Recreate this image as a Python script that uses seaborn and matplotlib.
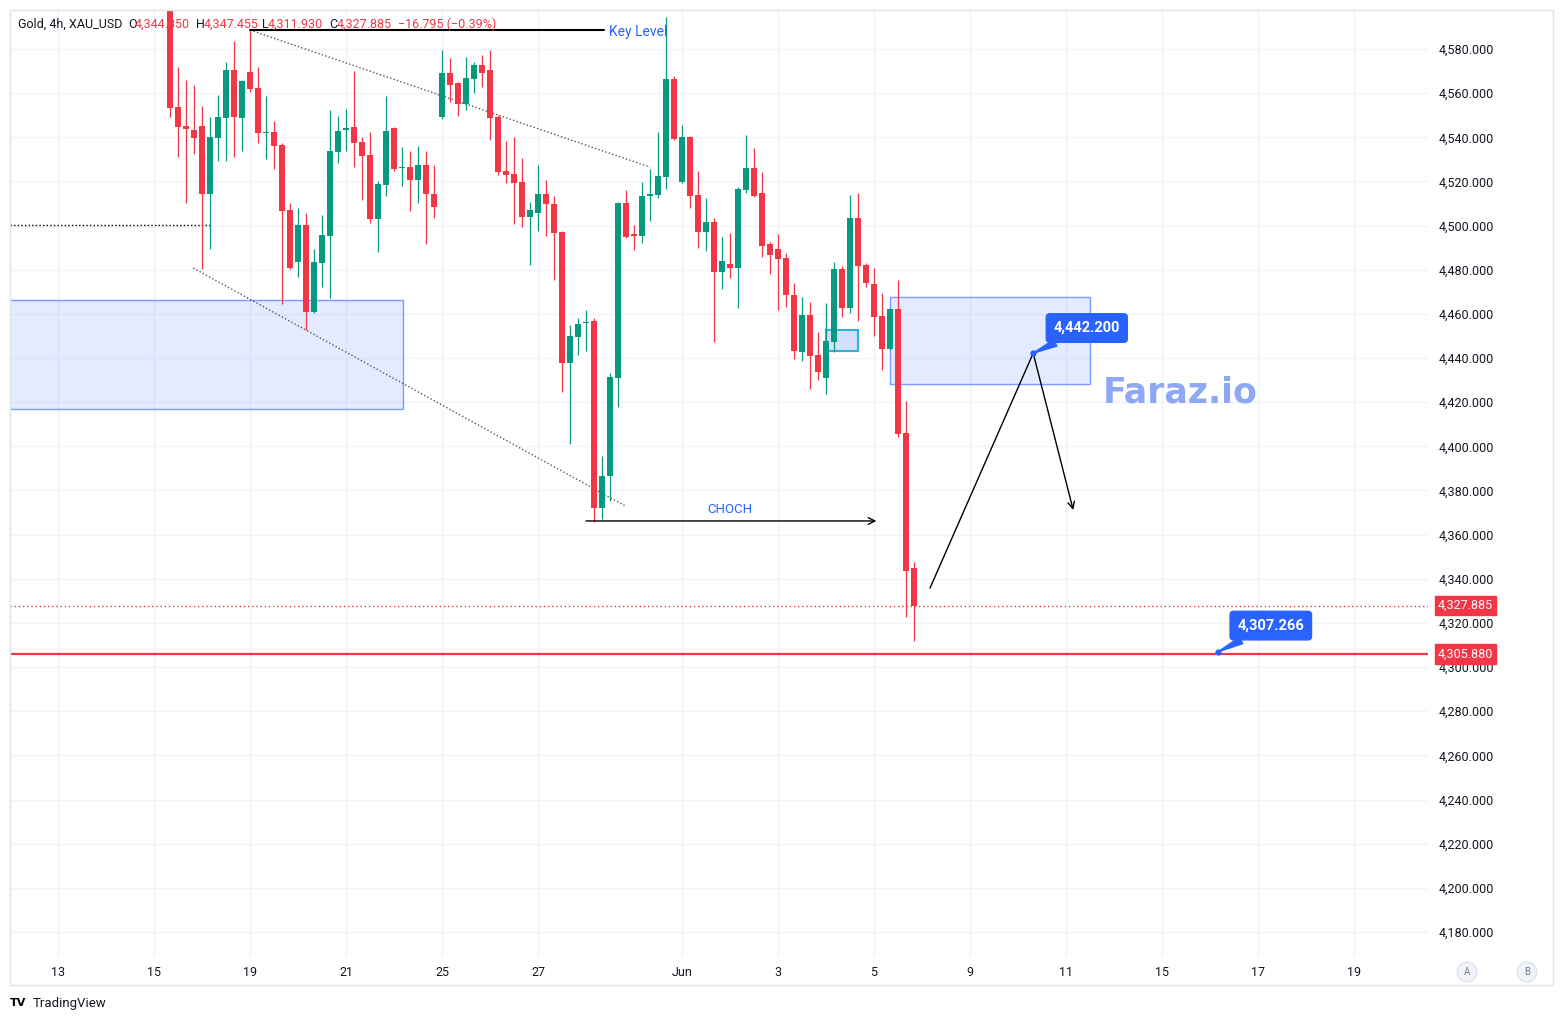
import numpy as np
import pandas as pd
import matplotlib
matplotlib.use("Agg")
import matplotlib.pyplot as plt
import matplotlib.transforms as mtransforms
from matplotlib.patches import Rectangle
import seaborn as sns

# 4h candles, Gold (XAU_USD)
opens = [4606.0, 4553.6, 4545.1, 4543.3, 4545.1, 4514.2, 4539.8, 4548.9, 4570.5, 4548.9,
         4569.6, 4562.3, 4541.8, 4542.4, 4536.6, 4507.1, 4483.6, 4500.3, 4461.0, 4483.2,
         4495.4, 4533.5, 4543.3, 4544.7, 4537.7, 4532.0, 4503.0, 4518.4, 4544.3, 4525.9,
         4526.5, 4520.7, 4527.5, 4514.3, 4549.1, 4569.3, 4564.5, 4554.9, 4566.4, 4572.8,
         4570.5, 4549.3, 4524.7, 4523.4, 4519.8, 4504.0, 4505.8, 4514.3, 4509.8, 4497.1,
         4437.9, 4449.7, 4455.9, 4456.6, 4372.2, 4386.5, 4431.1, 4510.1, 4496.2, 4495.4,
         4513.4, 4513.9, 4522.2, 4566.4, 4519.6, 4540.3, 4513.9, 4497.2, 4501.6, 4479.1,
         4482.5, 4480.7, 4516.1, 4526.2, 4514.6, 4491.5, 4489.4, 4485.3, 4468.6, 4442.9,
         4459.5, 4441.4, 4431.1, 4447.4, 4480.3, 4462.8, 4503.3, 4482.2, 4473.5, 4459.0,
         4444.2, 4462.1, 4405.9, 4344.850]
highs = [4612.0, 4571.7, 4566.0, 4563.7, 4554.2, 4549.2, 4559.2, 4574.0, 4583.6, 4566.0,
         4588.6, 4571.7, 4558.7, 4547.2, 4537.5, 4510.1, 4508.0, 4505.6, 4489.4, 4504.8,
         4552.4, 4549.6, 4552.7, 4570.0, 4540.0, 4542.4, 4520.2, 4558.7, 4544.8, 4535.5,
         4533.8, 4536.1, 4533.8, 4527.5, 4579.5, 4576.1, 4565.2, 4576.5, 4574.1, 4577.3,
         4579.5, 4550.0, 4538.3, 4540.1, 4530.8, 4510.6, 4527.5, 4520.7, 4513.4, 4497.5,
         4454.8, 4458.1, 4461.6, 4458.0, 4395.6, 4433.1, 4510.5, 4516.1, 4500.3, 4519.9,
         4525.5, 4542.4, 4594.6, 4567.8, 4545.6, 4540.6, 4524.7, 4512.4, 4503.3, 4494.8,
         4496.5, 4517.6, 4541.0, 4535.3, 4524.4, 4492.7, 4496.2, 4487.7, 4473.9, 4467.8,
         4465.3, 4451.9, 4464.8, 4483.6, 4481.7, 4513.9, 4514.6, 4482.9, 4480.7, 4469.3,
         4462.5, 4475.4, 4420.5, 4347.455]
lows = [4549.3, 4531.2, 4510.4, 4532.4, 4480.2, 4489.3, 4529.4, 4529.4, 4531.2, 4533.9,
        4560.7, 4537.6, 4530.3, 4525.5, 4464.3, 4480.3, 4476.9, 4452.7, 4460.5, 4472.3,
        4467.1, 4528.5, 4533.9, 4526.7, 4511.6, 4501.3, 4488.2, 4513.5, 4524.9, 4518.1,
        4506.7, 4510.1, 4491.5, 4503.6, 4548.4, 4556.1, 4549.6, 4552.4, 4559.9, 4562.9,
        4538.8, 4522.9, 4519.4, 4500.6, 4499.5, 4482.2, 4497.7, 4495.4, 4475.5, 4424.8,
        4401.1, 4441.2, 4443.3, 4365.9, 4366.9, 4375.4, 4418.0, 4494.2, 4488.9, 4492.0,
        4502.1, 4512.4, 4516.4, 4539.0, 4519.3, 4508.1, 4490.0, 4488.6, 4447.4, 4471.1,
        4476.4, 4462.5, 4514.6, 4513.1, 4485.9, 4478.1, 4461.8, 4463.0, 4439.6, 4438.7,
        4426.0, 4430.1, 4423.7, 4442.9, 4458.5, 4460.5, 4456.9, 4472.3, 4450.1, 4434.6,
        4443.8, 4404.4, 4322.8, 4311.930]
closes = [4553.4, 4544.8, 4543.6, 4539.8, 4514.2, 4540.1, 4549.2, 4570.5, 4549.2, 4565.6,
          4562.0, 4541.8, 4542.1, 4536.2, 4506.7, 4480.7, 4500.3, 4461.0, 4483.5, 4495.7,
          4533.8, 4542.9, 4544.1, 4537.6, 4531.7, 4503.0, 4518.7, 4542.9, 4525.5, 4526.4,
          4520.7, 4527.5, 4514.2, 4508.6, 4569.3, 4563.7, 4554.9, 4566.9, 4572.8, 4569.3,
          4548.9, 4524.3, 4522.9, 4519.4, 4504.0, 4507.1, 4514.3, 4509.6, 4496.8, 4437.9,
          4450.0, 4455.4, 4456.3, 4372.2, 4386.6, 4431.3, 4510.1, 4494.7, 4495.4, 4513.4,
          4514.3, 4522.5, 4566.4, 4539.4, 4540.1, 4513.5, 4497.2, 4501.6, 4479.1, 4484.0,
          4480.7, 4516.6, 4526.2, 4513.5, 4490.9, 4486.7, 4484.9, 4468.6, 4443.3, 4459.5,
          4441.1, 4433.8, 4447.7, 4480.3, 4462.8, 4503.3, 4481.8, 4474.1, 4458.7, 4444.3,
          4462.1, 4405.6, 4343.7, 4327.885]

date_labels = ["13", "15", "19", "21", "25", "27", "Jun", "3", "5", "9", "11", "15", "17", "19"]
date_pos = [-14, -2, 10, 22, 34, 46, 64, 76, 88, 100, 112, 124, 136, 148]

last_price = 4327.885
support = 4305.880
target_up = 4442.200
target_dn = 4307.266
key_level = 4588.5
choch = 4366.2

GREEN, RED, BLUE = "#089981", "#f23645", "#2962ff"
TXT = "#131722"

sns.set_theme(style="white")
plt.rcParams["font.family"] = ["Roboto", "DejaVu Sans"]

df = pd.DataFrame({"open": opens, "high": highs, "low": lows, "close": closes})
df["x"] = np.arange(len(df))
df["color"] = np.where(df["close"] >= df["open"], GREEN, RED)

W, H = 1563, 1021
fig = plt.figure(figsize=(W / 100, H / 100), dpi=100)
ax = fig.add_axes([10 / W, 1 - 957 / H, 1418 / W, 947 / H])

# zones
ax.add_patch(Rectangle((-25, 4416.9), 54.1, 49.4, fc=(0.16, 0.38, 1, 0.12),
                       ec=(0.16, 0.38, 1, 0.6), lw=1, zorder=1))
ax.add_patch(Rectangle((90, 4428.2), 25, 39.5, fc=(0.16, 0.38, 1, 0.12),
                       ec=(0.16, 0.38, 1, 0.6), lw=1, zorder=1))
ax.add_patch(Rectangle((82, 4443.2), 4, 9.5, fc=(0.16, 0.38, 1, 0.2),
                       ec="#2bb7d3", lw=1.5, zorder=1))

# candles
ax.vlines(df["x"], df["low"], df["high"], colors=df["color"], lw=0.9, zorder=3)
body = (df["close"] - df["open"]).abs().clip(lower=0.5)
ax.bar(df["x"], body, bottom=df[["open", "close"]].min(axis=1), width=0.7,
       color=df["color"], lw=0, zorder=3)

# trend lines
dot = (0, (1, 1.6))
sns.lineplot(x=[10, 60], y=[4588.6, 4526.5], ax=ax, color="#555", lw=1, ls=dot, zorder=2)
sns.lineplot(x=[2.9, 56.9], y=[4480.8, 4373.0], ax=ax, color="#555", lw=1, ls=dot, zorder=2)
sns.lineplot(x=[-20, 5], y=[4500.3, 4500.3], ax=ax, color="black", lw=1, ls=dot, zorder=2)

# key level
ax.plot([10, 54.3], [key_level, key_level], color="black", lw=1.5, zorder=4)
ax.text(54.9, key_level - 0.6, "Key Level", color=BLUE, fontsize=10, va="center", zorder=4)

# CHOCH
ax.annotate("", xy=(88.3, choch), xytext=(52, choch),
            arrowprops=dict(arrowstyle="->", color="black", lw=1, shrinkA=0, shrinkB=0))
ax.text(70, 4371.2, "CHOCH", color=BLUE, fontsize=9.5, ha="center", va="center")

# projected path
ax.plot([95, 107.9], [4335.8, target_up], color="black", lw=1, zorder=4)
ax.annotate("", xy=(112.9, 4371.2), xytext=(107.9, target_up),
            arrowprops=dict(arrowstyle="->", color="black", lw=1, shrinkA=0, shrinkB=0))

# price lines
ax.axhline(support, color=RED, lw=1.6, zorder=2)
ax.axhline(last_price, color=RED, lw=1, ls=(0, (1, 2)), zorder=2)

# callouts
for val, pt, box in [(target_up, (107.9, target_up), (114.6, 4453.6)),
                     (target_dn, (131.0, 4306.9), (137.6, 4318.8))]:
    ax.annotate(f"{val:,.3f}", xy=pt, xytext=box, ha="center", va="center",
                color="white", fontsize=10.5, fontweight="bold", zorder=6,
                bbox=dict(boxstyle="round,pad=0.5,rounding_size=0.25", fc=BLUE, ec=BLUE),
                arrowprops=dict(arrowstyle="wedge,tail_width=0.5", fc=BLUE, ec=BLUE,
                                shrinkA=0, shrinkB=0))
    ax.plot(*pt, "o", color=BLUE, ms=3.5, zorder=6)

ax.text(126.3, 4424.2, "Faraz.io", color="#8ea8f6", fontsize=25, fontweight="bold",
        family="DejaVu Sans", ha="center", va="center", zorder=5)

# price scale tags
trans = mtransforms.blended_transform_factory(ax.transAxes, ax.transData)
for val in [last_price, support]:
    ax.text(1.0068, val, f"{val:,.3f}", transform=trans, color="white", fontsize=9,
            ha="left", va="center", zorder=7, clip_on=False,
            bbox=dict(boxstyle="square,pad=0.25", fc=RED, ec=RED))

# axes
ax.set_xlim(-20, 157.25)
ax.set_ylim(4168.67, 4597.67)
ax.yaxis.tick_right()
ax.set_yticks(np.arange(4180, 4581, 20))
ax.yaxis.set_major_formatter(matplotlib.ticker.FuncFormatter(lambda v, p: f"{v:,.3f}"))
ax.set_xticks(date_pos)
ax.set_xticklabels(date_labels)
ax.tick_params(axis="y", length=0, pad=8, labelsize=9, labelcolor=TXT)
ax.tick_params(axis="x", length=0, pad=6.5, labelsize=9, labelcolor=TXT)
ax.grid(True, color="#f0f3fa", lw=1)
ax.set_axisbelow(True)
for s in ax.spines.values():
    s.set_visible(False)

# header
hy = 1 - 24 / H
for txt, px, col in [("Gold, 4h, XAU_USD", 18, TXT), ("O", 128, TXT), ("4,344.850", 135, RED),
                     ("H", 196, TXT), ("4,347.455", 204, RED), ("L", 262, TXT),
                     ("4,311.930", 268, RED), ("C", 329, TXT), ("4,327.885", 337, RED),
                     ("\u221216.795 (\u22120.39%)", 398, RED)]:
    fig.text(px / W, hy, txt, color=col, fontsize=9, va="center", ha="left")

# frame, footer
fig.add_artist(Rectangle((10 / W, 1 - 985 / H), 1543 / W, 975 / H, transform=fig.transFigure,
                         fill=False, ec="#e0e3eb", lw=1))
for lab, px in [("A", 1467), ("B", 1527)]:
    fig.text(px / W, 1 - 972 / H, lab, fontsize=7, color="#787b86", ha="center", va="center",
             bbox=dict(boxstyle="circle,pad=0.5", fc="#f0f3fa", ec="#e0e3eb"))
fig.text(10 / W, 1 - 1003 / H, "TV", fontsize=8, fontweight="heavy", color="black",
         family="DejaVu Sans", va="center")
fig.text(33 / W, 1 - 1003 / H, "TradingView", fontsize=9.5, color=TXT, va="center")

fig.savefig("out.png", dpi=100, facecolor="white")
